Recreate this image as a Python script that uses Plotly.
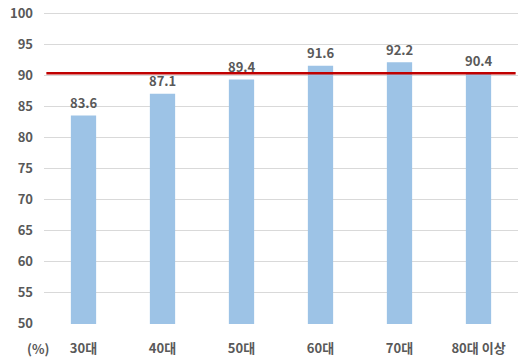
import plotly.graph_objects as go

categories = ["30대", "40대", "50대", "60대", "70대", "80대 이상"]
values = [83.6, 87.1, 89.4, 91.6, 92.2, 90.4]
reference_value = 90.4
y_ticks = list(range(50, 101, 5))

font_family = "Malgun Gothic, Noto Sans CJK KR, sans-serif"
text_color = "#595959"

fig = go.Figure()
fig.add_trace(go.Bar(
    x=categories, y=values,
    marker=dict(color="#9DC3E6", line=dict(width=0)),
    width=0.32,
    hoverinfo="skip",
))
for c, v in zip(categories, values):
    fig.add_annotation(x=c, y=v, text=f"<b>{v:.1f}</b>", showarrow=False,
                       yanchor="middle", yshift=13,
                       font=dict(size=13, color=text_color, family=font_family))
fig.add_shape(type="line", xref="paper", yref="y", x0=0.005, x1=0.995,
              y0=reference_value, y1=reference_value,
              line=dict(color="#C00000", width=2.5))
fig.add_annotation(text="<b>(%)</b>", xref="paper", yref="paper",
                   x=-0.04, y=-0.08, yanchor="middle",
                   showarrow=False, font=dict(size=13, color=text_color, family=font_family))

fig.update_layout(
    width=531, height=364,
    margin=dict(l=44, r=13, t=12, b=40, autoexpand=False),
    paper_bgcolor="white", plot_bgcolor="white",
    showlegend=False,
    font=dict(family=font_family),
    xaxis=dict(tickfont=dict(size=13, color=text_color, family=font_family),
               showgrid=False, showline=False, ticks="", automargin=False,
               tickvals=categories, ticktext=[f"<b>{c}</b>" for c in categories],
               ticklabelstandoff=15),
    yaxis=dict(range=[49.9, 100.3], tickvals=y_ticks, automargin=False,
               ticktext=[f"<b>{t}</b>" for t in y_ticks],
               tickfont=dict(size=13, color=text_color, family=font_family),
               showgrid=True, gridcolor="#D9D9D9", gridwidth=1,
               zeroline=False, showline=False, ticks="", ticklabelstandoff=10,
               ticklabeloverflow="allow"),
)
fig.write_html("out.html", config={"displayModeBar": False},
               post_script="document.body.style.margin='0';")
